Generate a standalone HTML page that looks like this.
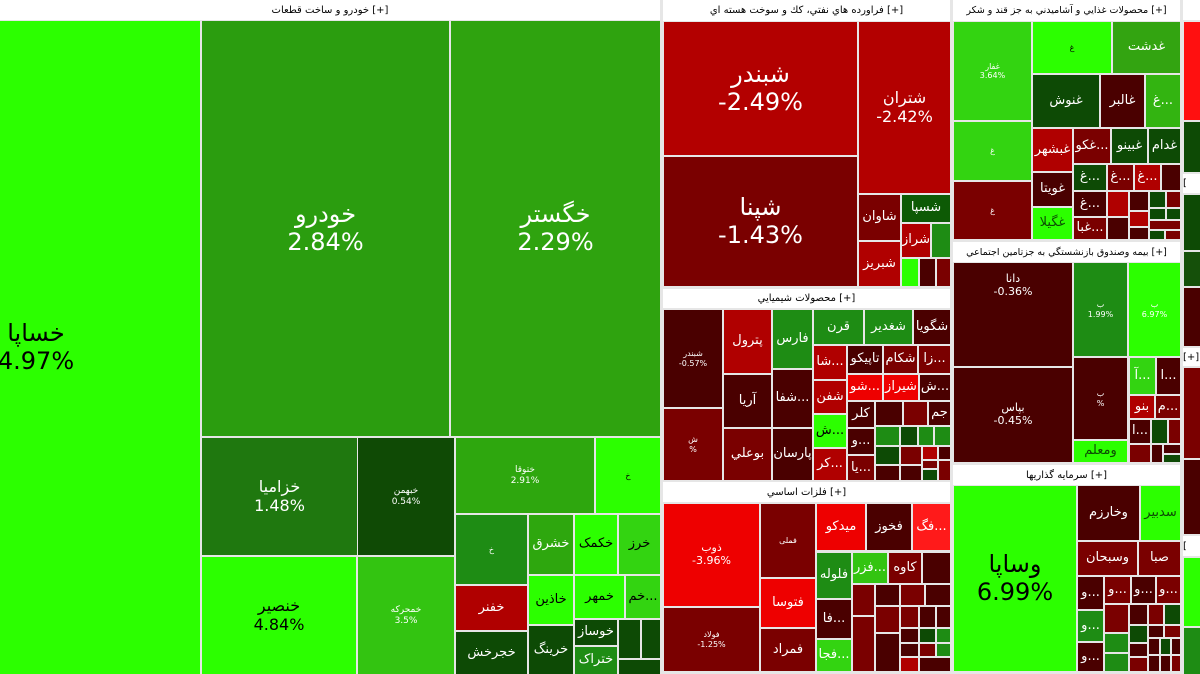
<!DOCTYPE html>
<html><head><meta charset="utf-8">
<style>
body{margin:0;width:1200px;height:674px;overflow:hidden;background:#e6e6e6;font-family:"DejaVu Sans",sans-serif;position:relative}
.b{position:absolute;display:flex;align-items:center;justify-content:center;flex-direction:column;color:#fff;text-align:center;overflow:hidden;line-height:1.15;font-size:12px;white-space:nowrap}
.h{position:absolute;background:#fff;color:#000;font-size:10px;display:flex;align-items:center;justify-content:center;overflow:hidden;white-space:nowrap}
.k{color:#000}
.L{font-size:24px}.M{font-size:16px}.S{font-size:13px}.T{font-size:8px}
.G{background:#2cff00}.g2{background:#33d411}.g3{background:#2ea70e}.g4{background:#1e8c14}.g5{background:#0d4a05}
.r1{background:#ee0000}.r2{background:#b00000}.r3{background:#7a0000}.r4{background:#4a0000}
</style></head><body>
<!-- Auto sector -->
<div class="h" style="left:0;top:0;width:660px;height:20px">خودرو و ساخت قطعات [+]</div>
<div class="b G k" style="left:0;top:21px;width:200px;height:653px;align-items:flex-start"><div style="font-size:24px;margin-left:-4px;text-align:center;width:80px">خساپا<br>4.97%</div></div>
<div class="b L" style="left:202px;top:21px;width:247px;height:415px;background:#2b9d0f">خودرو<br>2.84%</div>
<div class="b L" style="left:451px;top:21px;width:209px;height:415px;background:#2fa30f">خگستر<br>2.29%</div>
<div class="b M" style="left:202px;top:438px;width:155px;height:117px;background:#1f780f">خزامیا<br>1.48%</div>
<div class="b M k" style="left:202px;top:557px;width:154px;height:117px;background:#2cff00">خنصیر<br>4.84%</div>
<div class="b" style="left:358px;top:438px;width:96px;height:117px;background:#0f4a05;font-size:9px">خبهمن<br>0.54%</div>
<div class="b" style="left:358px;top:557px;width:96px;height:117px;background:#33c411;font-size:9px">خمحرکه<br>3.5%</div>
<div class="b g3" style="left:456px;top:438px;width:138px;height:75px;font-size:9px">ختوقا<br>2.91%</div>
<div class="b G k T" style="left:596px;top:438px;width:64px;height:75px">خ</div>
<div class="b g4 T" style="left:456px;top:515px;width:71px;height:69px">خ</div>
<div class="b r2 S" style="left:456px;top:586px;width:71px;height:44px">خفنر</div>
<div class="b g5 S" style="left:456px;top:632px;width:71px;height:42px">خجرخش</div>
<div class="b g3 S" style="left:529px;top:515px;width:44px;height:59px">خشرق</div>
<div class="b G k S" style="left:529px;top:576px;width:44px;height:48px">خاذین</div>
<div class="b g5 S" style="left:529px;top:626px;width:44px;height:48px">خرینگ</div>
<div class="b G k S" style="left:575px;top:515px;width:42px;height:59px">خکمک</div>
<div class="b g2 k S" style="left:619px;top:515px;width:41px;height:59px">خرز</div>
<div class="b G k S" style="left:575px;top:576px;width:49px;height:42px">خمهر</div>
<div class="b g2 k S" style="left:626px;top:576px;width:34px;height:42px">خم...</div>
<div class="b g5 S" style="left:575px;top:620px;width:42px;height:25px">خوساز</div>
<div class="b g4 S" style="left:575px;top:647px;width:42px;height:27px">ختراک</div>
<div class="b g5" style="left:619px;top:620px;width:21px;height:38px"></div>
<div class="b g5" style="left:642px;top:620px;width:18px;height:38px"></div>
<div class="b g5" style="left:619px;top:660px;width:41px;height:14px"></div>

<!-- Oil -->
<div class="h" style="left:663px;top:0;width:287px;height:21px">فراورده هاي نفتي، كك و سوخت هسته اي [+]</div>
<div class="b L" style="left:664px;top:22px;width:193px;height:133px;background:#b30000">شبندر<br>-2.49%</div>
<div class="b L r3" style="left:664px;top:157px;width:193px;height:129px">شپنا<br>-1.43%</div>
<div class="b M" style="left:859px;top:22px;width:91px;height:171px;background:#b30000">شتران<br>-2.42%</div>
<div class="b r3 S" style="left:859px;top:195px;width:41px;height:45px">شاوان</div>
<div class="b r2 S" style="left:859px;top:242px;width:41px;height:44px">شبریز</div>
<div class="b S" style="left:902px;top:195px;width:48px;height:27px;background:#0d5a05">شسپا</div>
<div class="b r2 S" style="left:902px;top:224px;width:28px;height:33px">شراز</div>
<div class="b g4" style="left:932px;top:224px;width:18px;height:33px"></div>
<div class="b G" style="left:902px;top:259px;width:16px;height:27px"></div>
<div class="b r4" style="left:920px;top:259px;width:15px;height:27px"></div>
<div class="b r3" style="left:937px;top:259px;width:13px;height:27px"></div>

<!-- Chemicals -->
<div class="h" style="left:663px;top:289px;width:287px;height:19px">محصولات شيميايي [+]</div>
<div class="b r4 T" style="left:664px;top:310px;width:58px;height:97px">شبندر<br>-0.57%</div>
<div class="b r3 T" style="left:664px;top:409px;width:58px;height:71px">ش<br>%</div>
<div class="b r2 S" style="left:724px;top:310px;width:47px;height:63px">پترول</div>
<div class="b r4 S" style="left:724px;top:375px;width:47px;height:52px">آریا</div>
<div class="b r3 S" style="left:724px;top:429px;width:47px;height:51px">بوعلي</div>
<div class="b g4 S" style="left:773px;top:310px;width:39px;height:58px">فارس</div>
<div class="b r4 S" style="left:773px;top:370px;width:39px;height:57px">شفا...</div>
<div class="b r4 S" style="left:773px;top:429px;width:39px;height:51px">پارسان</div>
<div class="b g4 S" style="left:814px;top:310px;width:49px;height:34px">قرن</div>
<div class="b g4 S" style="left:865px;top:310px;width:47px;height:34px">شغدیر</div>
<div class="b r4 S" style="left:914px;top:310px;width:36px;height:34px">شگویا</div>
<div class="b r2 S" style="left:814px;top:346px;width:32px;height:33px">شا...</div>
<div class="b r4 S" style="left:848px;top:346px;width:34px;height:27px">تاپیکو</div>
<div class="b r3 S" style="left:884px;top:346px;width:33px;height:27px">شکام</div>
<div class="b r3 S" style="left:919px;top:346px;width:31px;height:27px">زا...</div>
<div class="b r1 S" style="left:848px;top:375px;width:34px;height:25px">شو...</div>
<div class="b r1 S" style="left:884px;top:375px;width:34px;height:25px">شیراز</div>
<div class="b r4 S" style="left:920px;top:375px;width:30px;height:25px">ش...</div>
<div class="b r2 S" style="left:814px;top:381px;width:32px;height:32px">شفن</div>
<div class="b G k S" style="left:814px;top:415px;width:32px;height:32px">ش...</div>
<div class="b r2 S" style="left:814px;top:449px;width:32px;height:31px">کر...</div>
<div class="b r4 S" style="left:848px;top:402px;width:26px;height:25px">کلر</div>
<div class="b r4 S" style="left:848px;top:429px;width:26px;height:25px">و...</div>
<div class="b r3 S" style="left:848px;top:456px;width:26px;height:24px">یا...</div>
<div class="b r4" style="left:876px;top:402px;width:26px;height:23px"></div>
<div class="b r3" style="left:904px;top:402px;width:23px;height:23px"></div>
<div class="b r4 S" style="left:929px;top:402px;width:21px;height:23px">جم</div>
<div class="b g4" style="left:876px;top:427px;width:23px;height:18px"></div>
<div class="b g5" style="left:901px;top:427px;width:16px;height:18px"></div>
<div class="b g4" style="left:919px;top:427px;width:14px;height:18px"></div>
<div class="b g4" style="left:935px;top:427px;width:15px;height:18px"></div>
<div class="b g5" style="left:876px;top:447px;width:23px;height:17px"></div>
<div class="b r4" style="left:876px;top:466px;width:23px;height:14px"></div>
<div class="b r3" style="left:901px;top:447px;width:20px;height:17px"></div>
<div class="b r4" style="left:901px;top:466px;width:20px;height:14px"></div>
<div class="b r2" style="left:923px;top:447px;width:14px;height:12px"></div>
<div class="b r4" style="left:939px;top:447px;width:11px;height:12px"></div>
<div class="b r3" style="left:923px;top:461px;width:14px;height:7px"></div>
<div class="b g5" style="left:923px;top:470px;width:14px;height:10px"></div>
<div class="b r3" style="left:939px;top:461px;width:11px;height:19px"></div>

<!-- Metals -->
<div class="h" style="left:663px;top:482px;width:287px;height:20px">فلزات اساسي [+]</div>
<div class="b r1" style="left:664px;top:504px;width:95px;height:102px;font-size:11px">ذوب<br>-3.96%</div>
<div class="b r3 T" style="left:664px;top:608px;width:95px;height:63px">فولاد<br>-1.25%</div>
<div class="b r3 T" style="left:761px;top:504px;width:54px;height:73px">فملی</div>
<div class="b r1 S" style="left:761px;top:579px;width:54px;height:48px">فتوسا</div>
<div class="b r3 S" style="left:761px;top:629px;width:54px;height:42px">فمراد</div>
<div class="b S" style="left:817px;top:504px;width:48px;height:46px;background:#ee0000">میدکو</div>
<div class="b r4 S" style="left:867px;top:504px;width:44px;height:46px">فخوز</div>
<div class="b S" style="left:913px;top:504px;width:37px;height:46px;background:#ff1a1a">فگ...</div>
<div class="b g4 S" style="left:817px;top:553px;width:34px;height:45px">فلوله</div>
<div class="b r4 S" style="left:817px;top:600px;width:34px;height:38px">فا...</div>
<div class="b g2 S" style="left:817px;top:640px;width:34px;height:31px">فجا...</div>
<div class="b S" style="left:853px;top:553px;width:34px;height:30px;background:#33c411">فزر...</div>
<div class="b r3 S" style="left:889px;top:553px;width:32px;height:30px">کاوه</div>
<div class="b r4" style="left:923px;top:553px;width:27px;height:30px"></div>
<div class="b r3" style="left:853px;top:585px;width:21px;height:30px"></div>
<div class="b r3" style="left:853px;top:617px;width:21px;height:54px"></div>
<div class="b r4" style="left:876px;top:585px;width:23px;height:20px"></div>
<div class="b r3" style="left:901px;top:585px;width:23px;height:20px"></div>
<div class="b r4" style="left:926px;top:585px;width:24px;height:20px"></div>
<div class="b r3" style="left:876px;top:607px;width:23px;height:25px"></div>
<div class="b r4" style="left:876px;top:634px;width:23px;height:37px"></div>
<div class="b r3" style="left:901px;top:607px;width:17px;height:20px"></div>
<div class="b r4" style="left:920px;top:607px;width:15px;height:20px"></div>
<div class="b r4" style="left:937px;top:607px;width:13px;height:20px"></div>
<div class="b r4" style="left:901px;top:629px;width:17px;height:13px"></div>
<div class="b g5" style="left:920px;top:629px;width:15px;height:13px"></div>
<div class="b g4" style="left:937px;top:629px;width:13px;height:13px"></div>
<div class="b r4" style="left:901px;top:644px;width:17px;height:12px"></div>
<div class="b r2" style="left:901px;top:658px;width:17px;height:13px"></div>
<div class="b r3" style="left:920px;top:644px;width:15px;height:12px"></div>
<div class="b g4" style="left:937px;top:644px;width:13px;height:12px"></div>
<div class="b r4" style="left:920px;top:658px;width:30px;height:13px"></div>

<!-- Food -->
<div class="h" style="left:953px;top:0;width:227px;height:21px;font-size:9.5px">محصولات غذايي و آشاميدني به جز قند و شكر [+]</div>
<div class="b g2 T" style="left:954px;top:22px;width:77px;height:98px">غفار<br>3.64%</div>
<div class="b g2 T" style="left:954px;top:122px;width:77px;height:58px">غ</div>
<div class="b r3 T" style="left:954px;top:182px;width:77px;height:57px">غ</div>
<div class="b G k T" style="left:1033px;top:22px;width:78px;height:51px">غ</div>
<div class="b S" style="left:1113px;top:22px;width:67px;height:51px;background:#33a411">غدشت</div>
<div class="b g5 S" style="left:1033px;top:75px;width:66px;height:52px">غنوش</div>
<div class="b r4 S" style="left:1101px;top:75px;width:43px;height:52px">غالبر</div>
<div class="b S" style="left:1146px;top:75px;width:34px;height:52px;background:#33b411">غ...</div>
<div class="b r2 S" style="left:1033px;top:129px;width:39px;height:42px">غبشهر</div>
<div class="b r4 S" style="left:1033px;top:173px;width:39px;height:33px">غویتا</div>
<div class="b G S" style="left:1033px;top:208px;width:39px;height:31px;color:#0d4a05">غگیلا</div>
<div class="b r3 S" style="left:1074px;top:129px;width:36px;height:34px">غکو...</div>
<div class="b g5 S" style="left:1112px;top:129px;width:35px;height:34px">غبینو</div>
<div class="b g5 S" style="left:1149px;top:129px;width:31px;height:34px">غدام</div>
<div class="b g5 S" style="left:1074px;top:165px;width:32px;height:25px">غ...</div>
<div class="b r3 S" style="left:1108px;top:165px;width:25px;height:25px">غ...</div>
<div class="b r2 S" style="left:1135px;top:165px;width:25px;height:25px">غ...</div>
<div class="b r4" style="left:1162px;top:165px;width:18px;height:25px"></div>
<div class="b r4 S" style="left:1074px;top:192px;width:32px;height:24px">غ...</div>
<div class="b r3 S" style="left:1074px;top:218px;width:32px;height:21px">غبا...</div>
<div class="b r2" style="left:1108px;top:192px;width:20px;height:24px"></div>
<div class="b r4" style="left:1108px;top:218px;width:20px;height:21px"></div>
<div class="b r4" style="left:1130px;top:192px;width:18px;height:18px"></div>
<div class="b r2" style="left:1130px;top:212px;width:18px;height:14px"></div>
<div class="b r4" style="left:1130px;top:228px;width:18px;height:11px"></div>
<div class="b g5" style="left:1150px;top:192px;width:15px;height:15px"></div>
<div class="b r3" style="left:1167px;top:192px;width:13px;height:15px"></div>
<div class="b g5" style="left:1150px;top:209px;width:15px;height:10px"></div>
<div class="b g5" style="left:1167px;top:209px;width:13px;height:10px"></div>
<div class="b r3" style="left:1150px;top:221px;width:30px;height:8px"></div>
<div class="b g5" style="left:1150px;top:231px;width:14px;height:8px"></div>
<div class="b r3" style="left:1166px;top:231px;width:14px;height:8px"></div>

<!-- Insurance -->
<div class="h" style="left:953px;top:242px;width:227px;height:20px;font-size:9.5px">بيمه وصندوق بازنشستگي به جزتامين اجتماعي [+]</div>
<div class="b r4" style="left:954px;top:263px;width:118px;height:103px;font-size:11px;justify-content:flex-start;padding-top:0"><div style="margin-top:10px">دانا<br>-0.36%</div></div>
<div class="b r4" style="left:954px;top:368px;width:118px;height:94px;font-size:11px">بپاس<br>-0.45%</div>
<div class="b g4 T" style="left:1074px;top:263px;width:53px;height:93px">ب<br>1.99%</div>
<div class="b G T" style="left:1129px;top:263px;width:51px;height:93px">ب<br>6.97%</div>
<div class="b r4 T" style="left:1074px;top:358px;width:53px;height:81px">ب<br>%</div>
<div class="b G S" style="left:1074px;top:441px;width:53px;height:21px;color:#0d4a05">ومعلم</div>
<div class="b g2 S" style="left:1130px;top:358px;width:25px;height:36px">آ...</div>
<div class="b r4 S" style="left:1157px;top:358px;width:23px;height:36px">ا...</div>
<div class="b r2 S" style="left:1130px;top:396px;width:24px;height:22px">بنو</div>
<div class="b r3 S" style="left:1156px;top:396px;width:24px;height:22px">م...</div>
<div class="b r4 S" style="left:1130px;top:420px;width:20px;height:23px">ا...</div>
<div class="b g5" style="left:1152px;top:420px;width:15px;height:23px"></div>
<div class="b r3" style="left:1169px;top:420px;width:11px;height:23px"></div>
<div class="b r3" style="left:1130px;top:445px;width:20px;height:17px"></div>
<div class="b r4" style="left:1152px;top:445px;width:10px;height:17px"></div>
<div class="b r4" style="left:1164px;top:445px;width:16px;height:8px"></div>
<div class="b g5" style="left:1164px;top:455px;width:16px;height:7px"></div>

<!-- Investment -->
<div class="h" style="left:953px;top:465px;width:227px;height:20px">سرمایه گذاریها [+]</div>
<div class="b G k L" style="left:954px;top:486px;width:122px;height:185px">وساپا<br>6.99%</div>
<div class="b r4 S" style="left:1078px;top:486px;width:61px;height:54px">وخارزم</div>
<div class="b G S" style="left:1141px;top:486px;width:39px;height:54px;color:#0d4a05">سدبیر</div>
<div class="b r3 S" style="left:1078px;top:542px;width:59px;height:33px">وسبحان</div>
<div class="b r3 S" style="left:1139px;top:542px;width:41px;height:33px">صبا</div>
<div class="b r4 S" style="left:1078px;top:577px;width:25px;height:32px">و...</div>
<div class="b r3 S" style="left:1105px;top:577px;width:25px;height:26px">و...</div>
<div class="b r4 S" style="left:1132px;top:577px;width:23px;height:26px">و...</div>
<div class="b r3 S" style="left:1157px;top:577px;width:23px;height:26px">و...</div>
<div class="b g4 S" style="left:1078px;top:611px;width:25px;height:30px">و...</div>
<div class="b r4 S" style="left:1078px;top:643px;width:25px;height:28px">و...</div>
<div class="b r3" style="left:1105px;top:605px;width:23px;height:27px"></div>
<div class="b g4" style="left:1105px;top:634px;width:23px;height:18px"></div>
<div class="b g4" style="left:1105px;top:654px;width:23px;height:17px"></div>
<div class="b r4" style="left:1130px;top:605px;width:17px;height:19px"></div>
<div class="b r3" style="left:1149px;top:605px;width:14px;height:19px"></div>
<div class="b g5" style="left:1165px;top:605px;width:15px;height:19px"></div>
<div class="b g5" style="left:1130px;top:626px;width:17px;height:16px"></div>
<div class="b r4" style="left:1149px;top:626px;width:14px;height:11px"></div>
<div class="b r3" style="left:1165px;top:626px;width:15px;height:11px"></div>
<div class="b r4" style="left:1130px;top:644px;width:17px;height:12px"></div>
<div class="b r3" style="left:1130px;top:658px;width:17px;height:13px"></div>
<div class="b r4" style="left:1149px;top:639px;width:10px;height:15px"></div>
<div class="b g5" style="left:1161px;top:639px;width:9px;height:15px"></div>
<div class="b r4" style="left:1172px;top:639px;width:8px;height:15px"></div>
<div class="b r4" style="left:1149px;top:656px;width:10px;height:15px"></div>
<div class="b r4" style="left:1161px;top:656px;width:9px;height:15px"></div>
<div class="b r3" style="left:1172px;top:656px;width:8px;height:15px"></div>

<!-- right strip -->
<div class="h" style="left:1183px;top:0;width:17px;height:20px"></div>
<div class="b" style="left:1184px;top:22px;width:16px;height:98px;background:#ff1010"></div>
<div class="b g5" style="left:1184px;top:122px;width:16px;height:50px"></div>
<div class="h" style="left:1183px;top:174px;width:17px;height:19px;justify-content:flex-start">[</div>
<div class="b g5" style="left:1184px;top:195px;width:16px;height:55px"></div>
<div class="b" style="left:1184px;top:252px;width:16px;height:34px;background:#15500a"></div>
<div class="b r4" style="left:1184px;top:288px;width:16px;height:58px"></div>
<div class="h" style="left:1183px;top:348px;width:17px;height:18px;justify-content:flex-start">[+]</div>
<div class="b r3" style="left:1184px;top:368px;width:16px;height:90px"></div>
<div class="b r4" style="left:1184px;top:460px;width:16px;height:74px"></div>
<div class="h" style="left:1183px;top:536px;width:17px;height:20px;justify-content:flex-start">[</div>
<div class="b G" style="left:1184px;top:558px;width:16px;height:68px"></div>
<div class="b g4" style="left:1184px;top:628px;width:16px;height:46px"></div>
</body></html>
